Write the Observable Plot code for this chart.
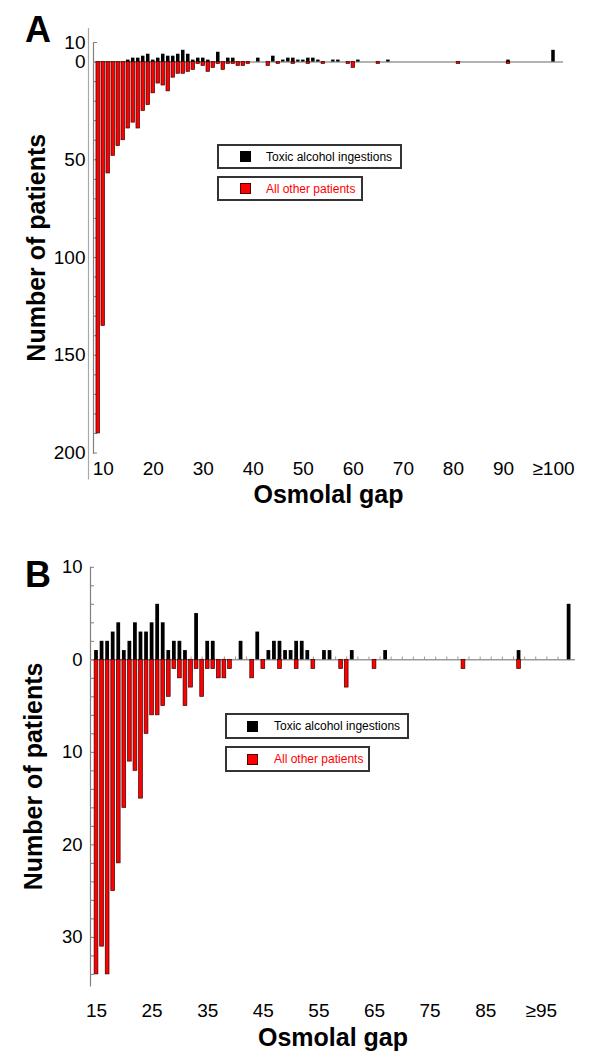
<!DOCTYPE html>
<html><head><meta charset="utf-8">
<script src="https://cdn.jsdelivr.net/npm/d3@7"></script>
<script src="https://cdn.jsdelivr.net/npm/@observablehq/plot@0.6"></script>
<style>
body{margin:0;background:#fff;font-family:"Liberation Sans",Arial,sans-serif;}
#root{position:relative;width:600px;height:1061px;overflow:hidden;background:#fff;}
.leg{position:absolute;box-sizing:border-box;border:2px solid #333;background:#fff;display:flex;align-items:center;font-size:12px;white-space:nowrap;}
.sw{width:11px;height:11px;box-sizing:border-box;flex:none;}
</style></head><body><div id="root"></div>
<script>
// Toxic alcohol ingestions (plotted upward)
const toxicGap   = [15,16,17,18,19,20,21,22,23,24,25,26,27,28,29,30,31,33,35,36,41,44,46,47,48,49,50,51,52,53,56,57,61,67,91,100];
const toxicCount = [ 1, 2, 2, 3, 4, 1, 2, 4, 3, 3, 4, 6, 4, 1, 2, 2, 1, 5, 2, 2, 2, 3, 1, 2, 2, 1, 1, 2, 2, 1, 1, 1, 1, 1, 1, 6];
// All other patients (plotted downward)
const otherGap   = [9,10,11,12,13,14,15,16,17,18,19,20,21,22,23,24,25,26,27,28,29,30,31,32,33,34,35,36,37,38,39,43,45,48,51,54,59,60,65,81,91];
const otherCount = [190,135,57,48,43,40,34,31,34,25,22,16,11,12,15,8,6,6,5,4,1,2,5,3,1,4,1,1,2,2,1,2,1,1,1,1,1,3,1,1,1];

// Axis ticks / labels
const xTicksA = [10,20,30,40,50,60,70,80,90,100];
const xLabelsA = ["10","20","30","40","50","60","70","80","90","\u2265100"];
const yLabelTicksA = [10,0,-50,-100,-150,-200];
const xTicksB = [15,25,35,45,55,65,75,85,95];
const xLabelsB = ["15","25","35","45","55","65","75","85","\u226595"];
const yLabelTicksB = [10,0,-10,-20,-30];

const legendItems = ["Toxic alcohol ingestions", "All other patients"];

const toxic = toxicGap.map((g,i)=>({gap:g, n:toxicCount[i]}));
const other = otherGap.map((g,i)=>({gap:g, n:otherCount[i]}));

const FONT = '"Liberation Sans", Arial, sans-serif';
const root = document.getElementById("root");

function panel({top, height, mt, mb, ml, mr, xDomain, yDomain, minB, yMinor, yLabels, xTicks, xLabels, letter, letterDx, letterDy, inset, outerLine, zeroTicks, titleDyX, yFont}) {
  const frameW = 600 - ml - mr;
  const t = toxic.filter(d => d.gap >= minB);
  const o = other.filter(d => d.gap >= minB);
  const marks = [];
  if (outerLine) marks.push(Plot.ruleX([xDomain[0]], {stroke:"#a8a8a8", strokeWidth:1.2, dx:-5, insetTop:-14, insetBottom:-27}));
  marks.push(
    Plot.ruleX([xDomain[0]], {stroke:"#808080", strokeWidth:1.2, insetBottom:-1.5}),
    Plot.tickY(yMinor, {y: d=>d, stroke:"#808080", strokeWidth:1, insetRight: frameW - 4}),
    Plot.ruleY([0], {stroke:"#9a9a9a", strokeWidth:1.5})
  );
  if (zeroTicks) marks.push(Plot.ruleX(zeroTicks, {x: d=>d, y1:0, y2:0.3, stroke:"#999", strokeWidth:1}));
  marks.push(
    Plot.rect(o, {x1: d=>d.gap-0.5, x2: d=>d.gap+0.5, y1: 0, y2: d=>-d.n, insetLeft: inset, insetRight: inset, fill:"#ff0000", stroke:"#3a0000", strokeWidth:0.7}),
    Plot.rect(t, {x1: d=>d.gap-0.5, x2: d=>d.gap+0.5, y1: 0, y2: d=>d.n, insetLeft: inset, insetRight: inset, fill:"#000"}),
    Plot.axisY({ticks: yLabels, tickSize: 0, tickPadding: 8, tickFormat: d => String(Math.abs(d)), label: null, fontSize: yFont}),
    Plot.axisX({ticks: xTicks, tickSize: 0, tickPadding: titleDyX.pad, tickFormat: d => xLabels[xTicks.indexOf(d)], label: null, fontSize: 19}),
    Plot.text(["Number of patients"], {frameAnchor:"left", dx:-57, rotate:-90, textAnchor:"middle", lineAnchor:"middle", fontWeight:"bold", fontSize:25, fill:"#000"}),
    Plot.text(["Osmolal gap"], {frameAnchor:"bottom", dy: titleDyX.title, textAnchor:"middle", lineAnchor:"middle", fontWeight:"bold", fontSize:25, fill:"#000"}),
    Plot.text([letter], {frameAnchor:"top-left", dx: letterDx, dy: letterDy, textAnchor:"middle", lineAnchor:"middle", fontWeight:"bold", fontSize:36, fill:"#000"})
  );
  const svg = Plot.plot({
    width: 600, height,
    marginTop: mt, marginBottom: mb, marginLeft: ml, marginRight: mr,
    x: {domain: xDomain}, y: {domain: yDomain},
    style: {fontFamily: FONT, fontSize: "19px", color: "#000", background: "transparent", overflow: "visible"},
    marks
  });
  svg.style.position = "absolute";
  svg.style.left = "0px";
  svg.style.top = top + "px";
  root.appendChild(svg);
}

// Panel A
panel({
  top: 0, height: 510, mt: 42, mb: 57.5, ml: 93, mr: 37,
  xDomain: [8.06, 102], yDomain: [-200, 10], minB: 0,
  yMinor: d3.range(-200, 11, 10), yLabels: yLabelTicksA,
  xTicks: xTicksA, xLabels: xLabelsA,
  letter: "A", letterDx: -55.5, letterDy: -12, inset: 0.75, outerLine: true, zeroTicks: null,
  titleDyX: {pad: 8, title: 42}, yFont: 19
});
// Panel B
panel({
  top: 540, height: 521, mt: 26.8, mb: 76, ml: 90, mr: 25,
  xDomain: [13.92, 101.15], yDomain: [-35.2, 10], minB: 15,
  yMinor: d3.range(-34, 11, 2), yLabels: yLabelTicksB,
  xTicks: xTicksB, xLabels: xLabelsB,
  letter: "B", letterDx: -52.5, letterDy: 8, inset: 0.9, outerLine: false, zeroTicks: d3.range(16, 100, 2),
  titleDyX: {pad: 18, title: 52}, yFont: 18.5
});

// Legends
function legend(left, top, widths, heights, gap, padL, swGap) {
  legendItems.forEach((label, i) => {
    const box = document.createElement("div");
    box.className = "leg";
    box.style.left = left + "px";
    box.style.top = (top + i * (heights + gap)) + "px";
    box.style.width = widths[i] + "px";
    box.style.height = heights + "px";
    box.style.paddingLeft = padL + "px";
    const sw = document.createElement("div");
    sw.className = "sw";
    sw.style.background = i === 0 ? "#000" : "#ff0000";
    sw.style.border = "1px solid " + (i === 0 ? "#000" : "#500");
    sw.style.marginRight = swGap + "px";
    const tx = document.createElement("span");
    tx.textContent = label;
    tx.style.color = i === 0 ? "#000" : "#ff0000";
    box.appendChild(sw); box.appendChild(tx);
    root.appendChild(box);
  });
}
legend(217, 144, [185, 146], 25, 7, 21, 15);
legend(225, 713, [184, 145], 26, 7, 20, 16);
</script>
</body></html>
